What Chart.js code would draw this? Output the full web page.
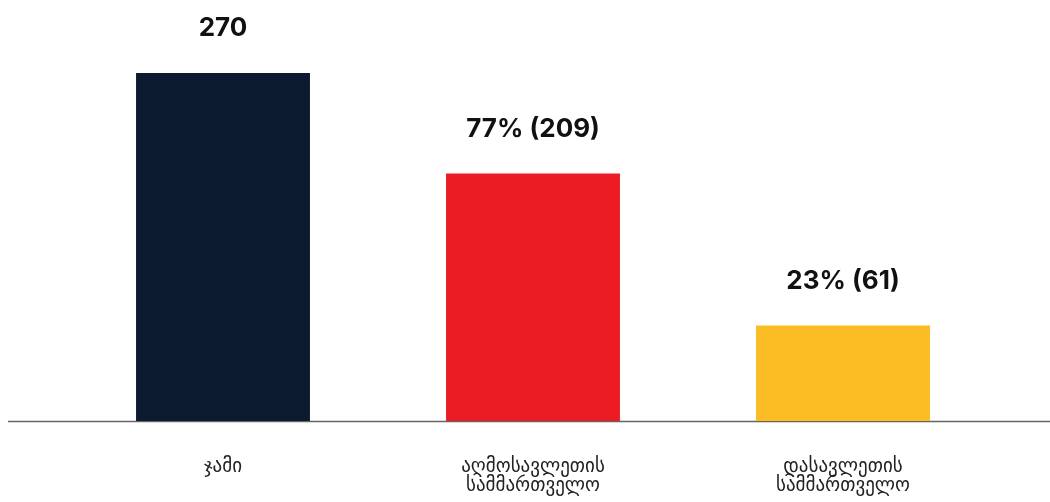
<!DOCTYPE html>
<html>
<head>
<meta charset="utf-8">
<script src="https://cdn.jsdelivr.net/npm/chart.js@4"></script>
<style>
  html, body { margin: 0; padding: 0; background: #fff; }
  #wrap { width: 1050px; height: 502px; }
</style>
</head>
<body>
<div id="wrap"><canvas id="chartSamartvelo"></canvas></div>
<script>
const categorias = [
  ['ჯამი'],
  ['აღმოსავლეთის', 'სამმართველო'],
  ['დასავლეთის', 'სამმართველო']
];
// bar heights (same units as the total)
const alturas = [270, 192, 74];
// text printed above each bar
const etiquetas = ['270', '77% (209)', '23% (61)'];
const colores = ['#0c1a2f', '#ec1c24', '#fbbc24'];

// value labels above the bars + the long base line
const pluginEtiquetas = {
  id: 'etiquetas',
  beforeDatasetsDraw(chart) {
    const ctx = chart.ctx;
    const y = Math.round(chart.chartArea.bottom) + 0.5;
    ctx.save();
    ctx.strokeStyle = '#666';
    ctx.lineWidth = 1.3;
    ctx.beginPath();
    ctx.moveTo(8, y);
    ctx.lineTo(chart.width, y);
    ctx.stroke();
    ctx.restore();
  },
  afterDatasetsDraw(chart) {
    const ctx = chart.ctx;
    const meta = chart.getDatasetMeta(0);
    ctx.save();
    ctx.font = 'bold 26px Inter';
    ctx.fillStyle = '#111';
    ctx.textAlign = 'center';
    ctx.textBaseline = 'alphabetic';
    meta.data.forEach((bar, i) => {
      ctx.fillText(etiquetas[i], bar.x, bar.y - 37);
    });
    ctx.restore();
  }
};

new Chart(document.getElementById('chartSamartvelo'), {
  type: 'bar',
  data: {
    labels: categorias,
    datasets: [{
      data: alturas,
      backgroundColor: colores,
      borderWidth: 0,
      categoryPercentage: 1,
      barPercentage: 0.561
    }]
  },
  options: {
    responsive: true,
    maintainAspectRatio: false,
    animation: false,
    layout: { padding: { top: 73, left: 68, right: 52, bottom: 0 } },
    plugins: {
      legend: { display: false },
      tooltip: { enabled: false }
    },
    scales: {
      x: {
        grid: { display: false, drawTicks: false },
        border: { display: false },
        ticks: {
          padding: 37,
          color: '#222',
          font: { family: 'DejaVu Sans', size: 19, lineHeight: 1.0 }
        },
        afterFit(scale) { scale.height = 81; }
      },
      y: {
        display: false,
        min: 0,
        max: 270
      }
    }
  },
  plugins: [pluginEtiquetas]
});
</script>
</body>
</html>
